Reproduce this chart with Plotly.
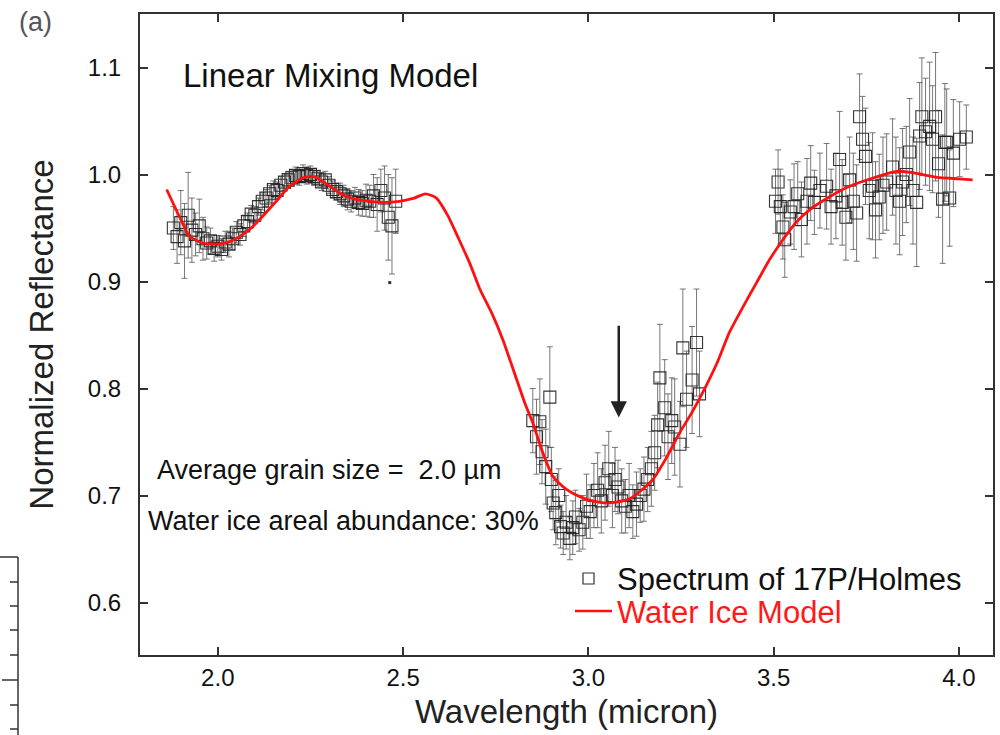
import plotly.graph_objects as go

# ---------------- data ----------------
seg1_x = [1.88, 1.89, 1.90, 1.91, 1.92, 1.93, 1.94, 1.95, 1.96, 1.97, 1.98, 1.99, 2.00, 2.01, 2.02,
          2.03, 2.04, 2.05, 2.06, 2.07, 2.08, 2.09, 2.10, 2.11, 2.12, 2.13, 2.14, 2.15, 2.16, 2.17,
          2.18, 2.19, 2.20, 2.21, 2.22, 2.23, 2.24, 2.25, 2.26, 2.27, 2.28, 2.29, 2.30, 2.31, 2.32,
          2.33, 2.34, 2.35, 2.36, 2.37, 2.38, 2.39, 2.40, 2.41, 2.42, 2.43, 2.44, 2.45, 2.46, 2.47, 2.48]
seg1_y = [0.950, 0.942, 0.955, 0.938, 0.962, 0.948, 0.944, 0.952, 0.940, 0.936, 0.938, 0.931, 0.933,
          0.930, 0.937, 0.935, 0.940, 0.946, 0.944, 0.952, 0.956, 0.963, 0.962, 0.970, 0.975, 0.978,
          0.982, 0.986, 0.985, 0.990, 0.993, 0.995, 0.997, 0.999, 0.998, 1.001, 0.999, 1.000, 0.998,
          0.996, 0.993, 0.995, 0.990, 0.986, 0.984, 0.982, 0.980, 0.977, 0.975, 0.978, 0.974, 0.973,
          0.976, 0.975, 0.980, 0.972, 0.985, 0.978, 0.960, 0.952, 0.975]
seg1_err = [0.020, 0.025, 0.030, 0.035, 0.040, 0.030, 0.020, 0.025, 0.020, 0.015, 0.012, 0.012, 0.010,
            0.010, 0.010, 0.012, 0.010, 0.010, 0.010, 0.010, 0.008, 0.008, 0.008, 0.008, 0.008, 0.008,
            0.008, 0.008, 0.008, 0.008, 0.008, 0.008, 0.008, 0.008, 0.008, 0.008, 0.008, 0.008, 0.008,
            0.008, 0.008, 0.008, 0.008, 0.008, 0.008, 0.010, 0.010, 0.010, 0.010, 0.010, 0.012, 0.012,
            0.015, 0.015, 0.020, 0.025, 0.020, 0.030, 0.040, 0.045, 0.030]

seg2_x = [2.850, 2.860, 2.869, 2.875, 2.885, 2.896, 2.900, 2.905, 2.912, 2.920, 2.925, 2.932, 2.940,
          2.950, 2.958, 2.965, 2.975, 2.985, 2.995, 3.005, 3.015, 3.025, 3.035, 3.045, 3.055, 3.065,
          3.072, 3.080, 3.090, 3.100, 3.110, 3.120, 3.130, 3.140, 3.150, 3.160, 3.170, 3.179, 3.187,
          3.193, 3.206, 3.215, 3.225, 3.233, 3.247, 3.255, 3.265, 3.280, 3.292, 3.300]
seg2_y = [0.770, 0.755, 0.769, 0.741, 0.727, 0.792, 0.715, 0.693, 0.684, 0.700, 0.671, 0.665, 0.675,
          0.660, 0.670, 0.680, 0.668, 0.675, 0.690, 0.685, 0.700, 0.705, 0.695, 0.712, 0.725, 0.700,
          0.715, 0.708, 0.695, 0.690, 0.700, 0.685, 0.692, 0.700, 0.706, 0.715, 0.725, 0.740, 0.766,
          0.810, 0.782, 0.755, 0.770, 0.764, 0.748, 0.838, 0.790, 0.808, 0.843, 0.795]
seg2_err = [0.030, 0.035, 0.040, 0.030, 0.035, 0.047, 0.030, 0.025, 0.030, 0.025, 0.020, 0.020, 0.025,
            0.020, 0.025, 0.025, 0.020, 0.025, 0.030, 0.025, 0.030, 0.035, 0.030, 0.035, 0.035, 0.030,
            0.030, 0.025, 0.030, 0.025, 0.030, 0.025, 0.030, 0.025, 0.030, 0.030, 0.035, 0.035, 0.040,
            0.050, 0.045, 0.040, 0.040, 0.045, 0.040, 0.055, 0.045, 0.050, 0.050, 0.040]

seg3_x = [3.505, 3.512, 3.518, 3.525, 3.530, 3.545, 3.555, 3.565, 3.575, 3.590, 3.600, 3.610, 3.625,
          3.643, 3.655, 3.668, 3.678, 3.685, 3.695, 3.705, 3.715, 3.724, 3.732, 3.740, 3.748, 3.758,
          3.767, 3.775, 3.785, 3.795, 3.805, 3.821, 3.830, 3.840, 3.848, 3.858, 3.867, 3.876, 3.886,
          3.894, 3.900, 3.910, 3.921, 3.929, 3.937, 3.945, 3.956, 3.962, 3.967, 3.975, 3.985, 4.002, 4.020]
seg3_y = [0.975, 0.993, 0.970, 0.951, 0.939, 0.965, 0.970, 0.982, 0.958, 0.975, 0.992, 0.974, 0.985,
          0.989, 0.970, 0.980, 1.014, 0.974, 0.960, 0.995, 0.975, 0.964, 1.054, 1.033, 1.017, 0.985,
          0.989, 0.967, 0.979, 0.990, 0.993, 1.007, 0.985, 0.975, 0.993, 1.000, 1.021, 0.985, 0.974,
          1.036, 1.054, 1.040, 1.045, 1.033, 1.054, 1.010, 0.977, 1.030, 1.030, 0.978, 1.020, 1.033, 1.035]
seg3_err = [0.030, 0.030, 0.035, 0.030, 0.035, 0.030, 0.040, 0.030, 0.035, 0.040, 0.035, 0.030, 0.035,
            0.040, 0.035, 0.040, 0.045, 0.040, 0.040, 0.040, 0.045, 0.045, 0.040, 0.040, 0.045, 0.045,
            0.050, 0.045, 0.040, 0.045, 0.045, 0.045, 0.050, 0.050, 0.050, 0.045, 0.050, 0.050, 0.060,
            0.050, 0.055, 0.050, 0.060, 0.050, 0.060, 0.050, 0.060, 0.055, 0.050, 0.045, 0.050, 0.035, 0.030]

stray_x = [2.464]
stray_y = [0.899]

model_x = [1.862, 1.90, 1.924, 1.96, 2.0, 2.03, 2.059, 2.09, 2.121, 2.16, 2.194, 2.23, 2.26, 2.294,
           2.337, 2.37, 2.41, 2.45, 2.49, 2.53, 2.56, 2.59, 2.62, 2.65, 2.68, 2.707, 2.74, 2.77,
           2.80, 2.83, 2.85, 2.875, 2.904, 2.94, 2.977, 3.01, 3.05, 3.08, 3.112, 3.14, 3.174, 3.21,
           3.247, 3.28, 3.314, 3.35, 3.38, 3.42, 3.454, 3.49, 3.525, 3.56, 3.597, 3.65, 3.705, 3.77,
           3.832, 3.87, 3.902, 3.95, 4.0, 4.037]
model_y = [0.986, 0.958, 0.942, 0.936, 0.935, 0.937, 0.942, 0.950, 0.961, 0.976, 0.989, 0.997, 0.998,
           0.991, 0.981, 0.977, 0.975, 0.974, 0.975, 0.978, 0.982, 0.978, 0.962, 0.940, 0.917, 0.893,
           0.870, 0.845, 0.815, 0.785, 0.768, 0.742, 0.718, 0.706, 0.699, 0.695, 0.693, 0.694, 0.697,
           0.704, 0.715, 0.735, 0.759, 0.778, 0.800, 0.826, 0.852, 0.878, 0.899, 0.921, 0.939, 0.955,
           0.967, 0.979, 0.989, 0.997, 1.003, 1.002, 1.000, 0.997, 0.996, 0.995]

x_ticks = [2.0, 2.5, 3.0, 3.5, 4.0]
y_ticks = [0.6, 0.7, 0.8, 0.9, 1.0, 1.1]

arrow_x = 3.082
arrow_y_start = 0.860
arrow_y_end = 0.773

legend_labels = ["Spectrum of 17P/Holmes", "Water Ice Model"]

# ---------------- figure ----------------
FONT = "Liberation Sans, Arial, Helvetica, sans-serif"
L, R, T, B = 140, 7, 14, 80
PW, PH = 1000 - L - R, 735 - T - B

def pxp(p):
    return (p - L) / PW

def pyp(p):
    return (735 - B - p) / PH

data_x = seg1_x + seg2_x + seg3_x
data_y = seg1_y + seg2_y + seg3_y
data_e = seg1_err + seg2_err + seg3_err

fig = go.Figure()
fig.add_trace(go.Scatter(
    x=data_x, y=data_y, mode="markers", name=legend_labels[0], showlegend=False,
    marker=dict(symbol="square-open", size=12, color="rgba(30,30,30,0.9)", line=dict(width=1.1)),
    error_y=dict(type="data", array=data_e, visible=True, color="rgba(85,85,85,0.8)",
                 thickness=1, width=3),
))
fig.add_trace(go.Scatter(
    x=stray_x, y=stray_y, mode="markers", showlegend=False,
    marker=dict(symbol="square", size=3, color="#333"),
))
fig.add_trace(go.Scatter(
    x=model_x, y=model_y, mode="lines", name=legend_labels[1], showlegend=False,
    line=dict(color="#ff1010", width=2.8, shape="spline", smoothing=0.6),
))

fig.add_annotation(x=arrow_x, y=arrow_y_end, ax=arrow_x, ay=arrow_y_start, xref="x", yref="y",
                   axref="x", ayref="y", showarrow=True, arrowhead=2, arrowsize=1.3,
                   arrowwidth=2.5, arrowcolor="#222", text="")

fig.add_annotation(x=pxp(181), y=pyp(75), xref="paper", yref="paper", text="Linear Mixing Model",
                   showarrow=False, xanchor="left", yanchor="middle",
                   font=dict(family=FONT, size=33, color="#111"))
fig.add_annotation(x=pxp(155), y=pyp(470), xref="paper", yref="paper",
                   text="Average grain size =  2.0 µm",
                   showarrow=False, xanchor="left", yanchor="middle",
                   font=dict(family=FONT, size=27, color="#111"))
fig.add_annotation(x=pxp(146), y=pyp(521), xref="paper", yref="paper",
                   text="Water ice areal abundance: 30%",
                   showarrow=False, xanchor="left", yanchor="middle",
                   font=dict(family=FONT, size=27, color="#111"))
fig.add_annotation(x=pxp(35), y=pyp(22), xref="paper", yref="paper", text="(a)",
                   showarrow=False, xanchor="center", yanchor="middle",
                   font=dict(family=FONT, size=27, color="#555"))

# manual legend
fig.add_shape(type="rect", xref="paper", yref="paper", x0=pxp(583), x1=pxp(594),
              y0=pyp(584), y1=pyp(573), line=dict(color="#333", width=1.2))
fig.add_annotation(x=pxp(615), y=pyp(579), xref="paper", yref="paper", text=legend_labels[0],
                   showarrow=False, xanchor="left", yanchor="middle",
                   font=dict(family=FONT, size=31, color="#111"))
fig.add_shape(type="line", xref="paper", yref="paper", x0=pxp(575), x1=pxp(612),
              y0=pyp(611), y1=pyp(611), line=dict(color="#ff1010", width=2.5))
fig.add_annotation(x=pxp(615), y=pyp(612), xref="paper", yref="paper", text=legend_labels[1],
                   showarrow=False, xanchor="left", yanchor="middle",
                   font=dict(family=FONT, size=31, color="#ff1a1a"))

# fragment of neighbouring panel (bottom-left corner)
frag = dict(xref="paper", yref="paper", line=dict(color="#333", width=1.5))
fx = pxp(18)
fig.add_shape(type="line", x0=fx, x1=fx, y0=pyp(557), y1=pyp(740), **frag)
fig.add_shape(type="line", x0=pxp(0), x1=fx, y0=pyp(557), y1=pyp(557), **frag)
fig.add_shape(type="line", x0=pxp(2), x1=fx, y0=pyp(680), y1=pyp(680), **frag)
for t in [582, 606, 630, 655, 705, 729]:
    fig.add_shape(type="line", x0=pxp(10), x1=fx, y0=pyp(t), y1=pyp(t), **frag)

axis_common = dict(showline=True, linecolor="#333", linewidth=2, mirror="ticks",
                   ticks="inside", ticklen=8, tickwidth=1.5, tickcolor="#333",
                   showgrid=False, zeroline=False, automargin=False,
                   tickfont=dict(family=FONT, size=24, color="#111"))
fig.update_xaxes(range=[1.79, 4.092], tickvals=x_ticks, ticktext=[f"{v:.1f}" for v in x_ticks],
                 ticklabelstandoff=0,
                 title=dict(text="Wavelength (micron)", font=dict(family=FONT, size=33, color="#222"),
                            standoff=10), **axis_common)
fig.update_yaxes(range=[0.551, 1.150], tickvals=y_ticks, ticktext=[f"{v:.1f}" for v in y_ticks],
                 ticklabelstandoff=12,
                 title=dict(text="Normalized Reflectance", font=dict(family=FONT, size=33, color="#222"),
                            standoff=24), **axis_common)

fig.update_layout(
    width=1000, height=735,
    margin=dict(l=L, r=R, t=T, b=B),
    paper_bgcolor="white", plot_bgcolor="white",
    font=dict(family=FONT),
    showlegend=False,
)

fig.write_html("out.html")
